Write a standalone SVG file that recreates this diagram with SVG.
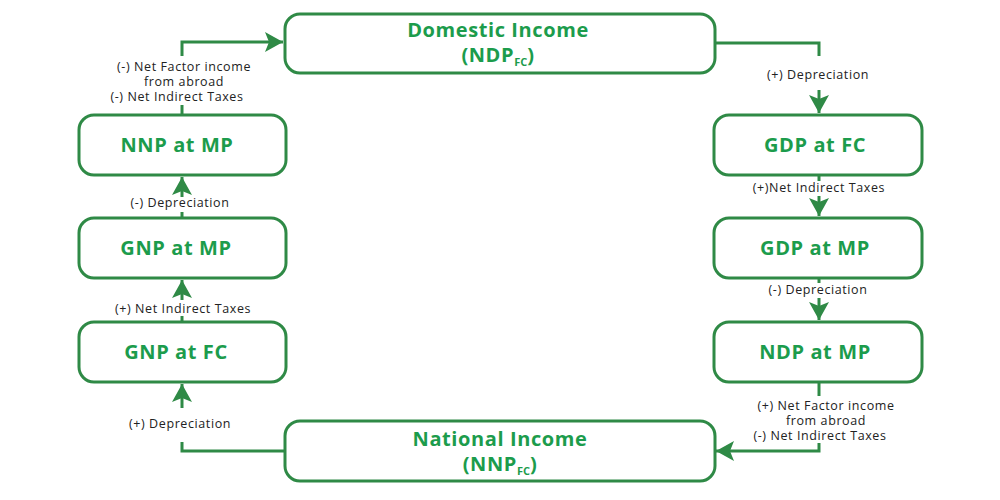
<svg xmlns="http://www.w3.org/2000/svg" width="1000" height="500" viewBox="0 0 1000 500">
<defs>
<style>
.box{fill:#fff;stroke:#2f8a46;stroke-width:3}
.t{font-family:"Open Sans","Liberation Sans",sans-serif;font-weight:700;font-size:20px;letter-spacing:0.6px;fill:#1c9c4c;text-anchor:middle}
.sub{font-size:11px;letter-spacing:0}
.lbl{font-family:"Open Sans","Liberation Sans",sans-serif;font-size:12.5px;letter-spacing:0.6px;fill:#222;text-anchor:middle}
.ln{fill:none;stroke:#2f8a46;stroke-width:3}
</style>
<marker id="ah" markerUnits="userSpaceOnUse" viewBox="-18 -11 19 22" refX="0" refY="0" markerWidth="19" markerHeight="22" orient="auto">
<path d="M0,0 L-18,-10 L-14,0 L-18,10 Z" fill="#2f8a46"/>
</marker>
</defs>
<rect width="1000" height="500" fill="#fff"/>
<g id="connectors">
<path class="ln" d="M182,114 V105"/>
<path class="ln" d="M182,56 V42 H283" marker-end="url(#ah)"/>
<path class="ln" d="M715,43 H819 V56"/>
<path class="ln" d="M819,90 V113" marker-end="url(#ah)"/>
<path class="ln" d="M819,175 V181"/>
<path class="ln" d="M819,196 V216" marker-end="url(#ah)"/>
<path class="ln" d="M819,278 V283"/>
<path class="ln" d="M819,298 V320" marker-end="url(#ah)"/>
<path class="ln" d="M819,382 V396"/>
<path class="ln" d="M819,443 V451 H716" marker-end="url(#ah)"/>
<path class="ln" d="M285,451 H182 V442"/>
<path class="ln" d="M182,408 V384" marker-end="url(#ah)"/>
<path class="ln" d="M182,321 V316"/>
<path class="ln" d="M182,300 V280" marker-end="url(#ah)"/>
<path class="ln" d="M182,217 V212"/>
<path class="ln" d="M182,197 V177" marker-end="url(#ah)"/>
</g>
<g id="labels">
<text class="lbl" x="184" y="71">(-) Net Factor income</text>
<text class="lbl" x="184" y="86">from abroad</text>
<text class="lbl" x="177" y="101">(-) Net Indirect Taxes</text>
<text class="lbl" x="818" y="79">(+) Depreciation</text>
<text class="lbl" x="819" y="192">(+)Net Indirect Taxes</text>
<text class="lbl" x="818" y="294">(-) Depreciation</text>
<text class="lbl" x="826" y="410">(+) Net Factor income</text>
<text class="lbl" x="826" y="425">from abroad</text>
<text class="lbl" x="820" y="440">(-) Net Indirect Taxes</text>
<text class="lbl" x="180" y="207">(-) Depreciation</text>
<text class="lbl" x="183" y="313">(+) Net Indirect Taxes</text>
<text class="lbl" x="180" y="428">(+) Depreciation</text>
</g>
<g id="domestic-income">
<rect class="box" x="285" y="14" width="430" height="59" rx="15"/>
<text class="t" x="498" y="37">Domestic Income</text>
<text class="t" x="498" y="62">(NDP<tspan class="sub" dy="4">FC</tspan><tspan dy="-4">)</tspan></text>
</g>
<g id="gdp-fc">
<rect class="box" x="714" y="115" width="208" height="60" rx="15"/>
<text class="t" x="815" y="152">GDP at FC</text>
</g>
<g id="gdp-mp">
<rect class="box" x="714" y="218" width="208" height="60" rx="15"/>
<text class="t" x="815" y="255">GDP at MP</text>
</g>
<g id="ndp-mp">
<rect class="box" x="714" y="322" width="208" height="60" rx="15"/>
<text class="t" x="815" y="359">NDP at MP</text>
</g>
<g id="national-income">
<rect class="box" x="285" y="421" width="430" height="60" rx="15"/>
<text class="t" x="500" y="446">National Income</text>
<text class="t" x="500" y="471">(NNP<tspan class="sub" dy="4">FC</tspan><tspan dy="-4">)</tspan></text>
</g>
<g id="gnp-fc">
<rect class="box" x="79" y="322" width="207" height="60" rx="15"/>
<text class="t" x="176" y="359">GNP at FC</text>
</g>
<g id="gnp-mp">
<rect class="box" x="79" y="218" width="207" height="60" rx="15"/>
<text class="t" x="176" y="255">GNP at MP</text>
</g>
<g id="nnp-mp">
<rect class="box" x="79" y="115" width="207" height="60" rx="15"/>
<text class="t" x="177" y="152">NNP at MP</text>
</g>
</svg>
